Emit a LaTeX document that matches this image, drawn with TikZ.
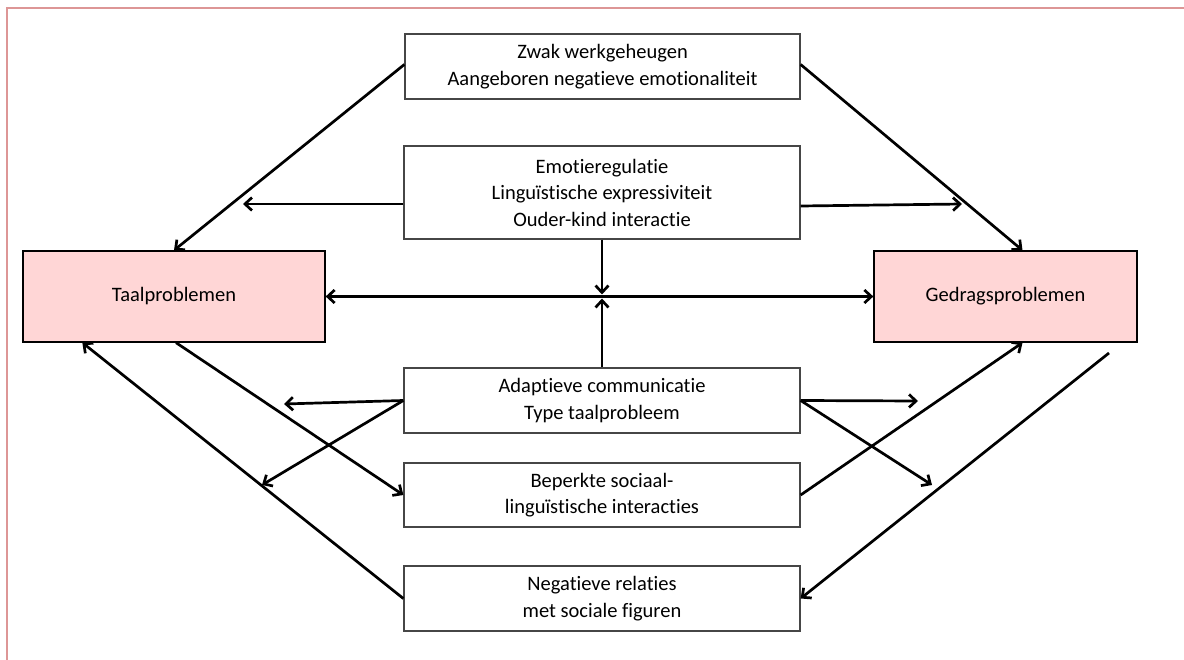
\documentclass[tikz,border=0pt]{standalone}
\usepackage{fontspec}
\setmainfont{Carlito}[RawFeature=-liga]
\usetikzlibrary{arrows.meta}
\definecolor{framepink}{RGB}{221,150,150}
\definecolor{boxpink}{RGB}{255,214,214}
\definecolor{boxline}{RGB}{70,70,70}
\tikzset{
  box/.style={draw=boxline, line width=1.3pt, fill=white, align=center,
    inner sep=0pt, font=\fontsize{20.5}{26.5}\selectfont},
  problem/.style={box, fill=boxpink, draw=black},
  arr/.style={line width=2.7pt, -{Straight Barb[length=7pt,width=13pt]}},
  darr/.style={line width=2.7pt, {Straight Barb[length=7pt,width=13pt]}-{Straight Barb[length=7pt,width=13pt]}},
}
\begin{document}
\begin{tikzpicture}[x=1pt,y=-1pt]
\useasboundingbox (0,0) rectangle (1184,660);
\clip (0,0) rectangle (1184,660);
% outer frame, running off the right and bottom edges
\draw[framepink, line width=2.2pt] (7,700) -- (7,8) -- (1220,8);

% boxes
\node[box, minimum width=395pt, minimum height=65pt] (top) at (602.5,66.5)
  {Zwak werkgeheugen\\Aangeboren negatieve emotionaliteit};
\node[box, minimum width=396pt, minimum height=93pt] (emo) at (602,192.5)
  {Emotieregulatie\\Linguïstische expressiviteit\\Ouder-kind interactie};
\node[problem, minimum width=302pt, minimum height=91pt] (taal) at (174,296.5)
  {Taalproblemen};
\node[problem, minimum width=263pt, minimum height=91pt] (gedrag) at (1005.5,296.5)
  {Gedragsproblemen};
\node[box, minimum width=396pt, minimum height=65pt] (adapt) at (602,400.5)
  {Adaptieve communicatie\\Type taalprobleem};
\node[box, minimum width=396pt, minimum height=64pt] (bep) at (602,495)
  {Beperkte sociaal-\\linguïstische interacties};
\node[box, minimum width=396pt, minimum height=65pt] (neg) at (602,598.5)
  {Negatieve relaties\\met sociale figuren};

% free arrow ends
\coordinate (mid) at (602,296.5);
\coordinate (eL) at (243,204);
\coordinate (eR) at (962,204);
\coordinate (aL1) at (284,404);
\coordinate (aL2) at (262,485);
\coordinate (aR1) at (918,401);
\coordinate (aR2) at (932,485);
\coordinate (gStart) at (1109,353);

% connectors
\draw[arr] ([yshift=2pt]top.west) -- (taal.north);
\draw[arr] ([yshift=2pt]top.east) -- ([xshift=17pt]gedrag.north);
\draw[arr] (eL -| emo.west) -- (eL);
\draw[arr] ([yshift=-2pt]eR -| emo.east) -- (eR);
\draw[darr] (taal.east) -- (gedrag.west);
\draw[arr, shorten >=2pt] (emo.south) -- (mid);
\draw[arr, shorten >=2pt] (adapt.north) -- (mid);
\draw[arr] (adapt.west) -- (aL1);
\draw[arr] (adapt.west) -- (aL2);
\draw[arr] ([xshift=2pt]taal.south) -- (bep.west);
\draw[arr] (neg.west) -- ([xshift=60pt]taal.south west);
\draw[arr] (adapt.east) -- (aR1);
\draw[arr] (adapt.east) -- (aR2);
\draw[arr] (bep.east) -- ([xshift=17pt]gedrag.south);
\draw[arr] (gStart) -- (neg.east);
\end{tikzpicture}
\end{document}
